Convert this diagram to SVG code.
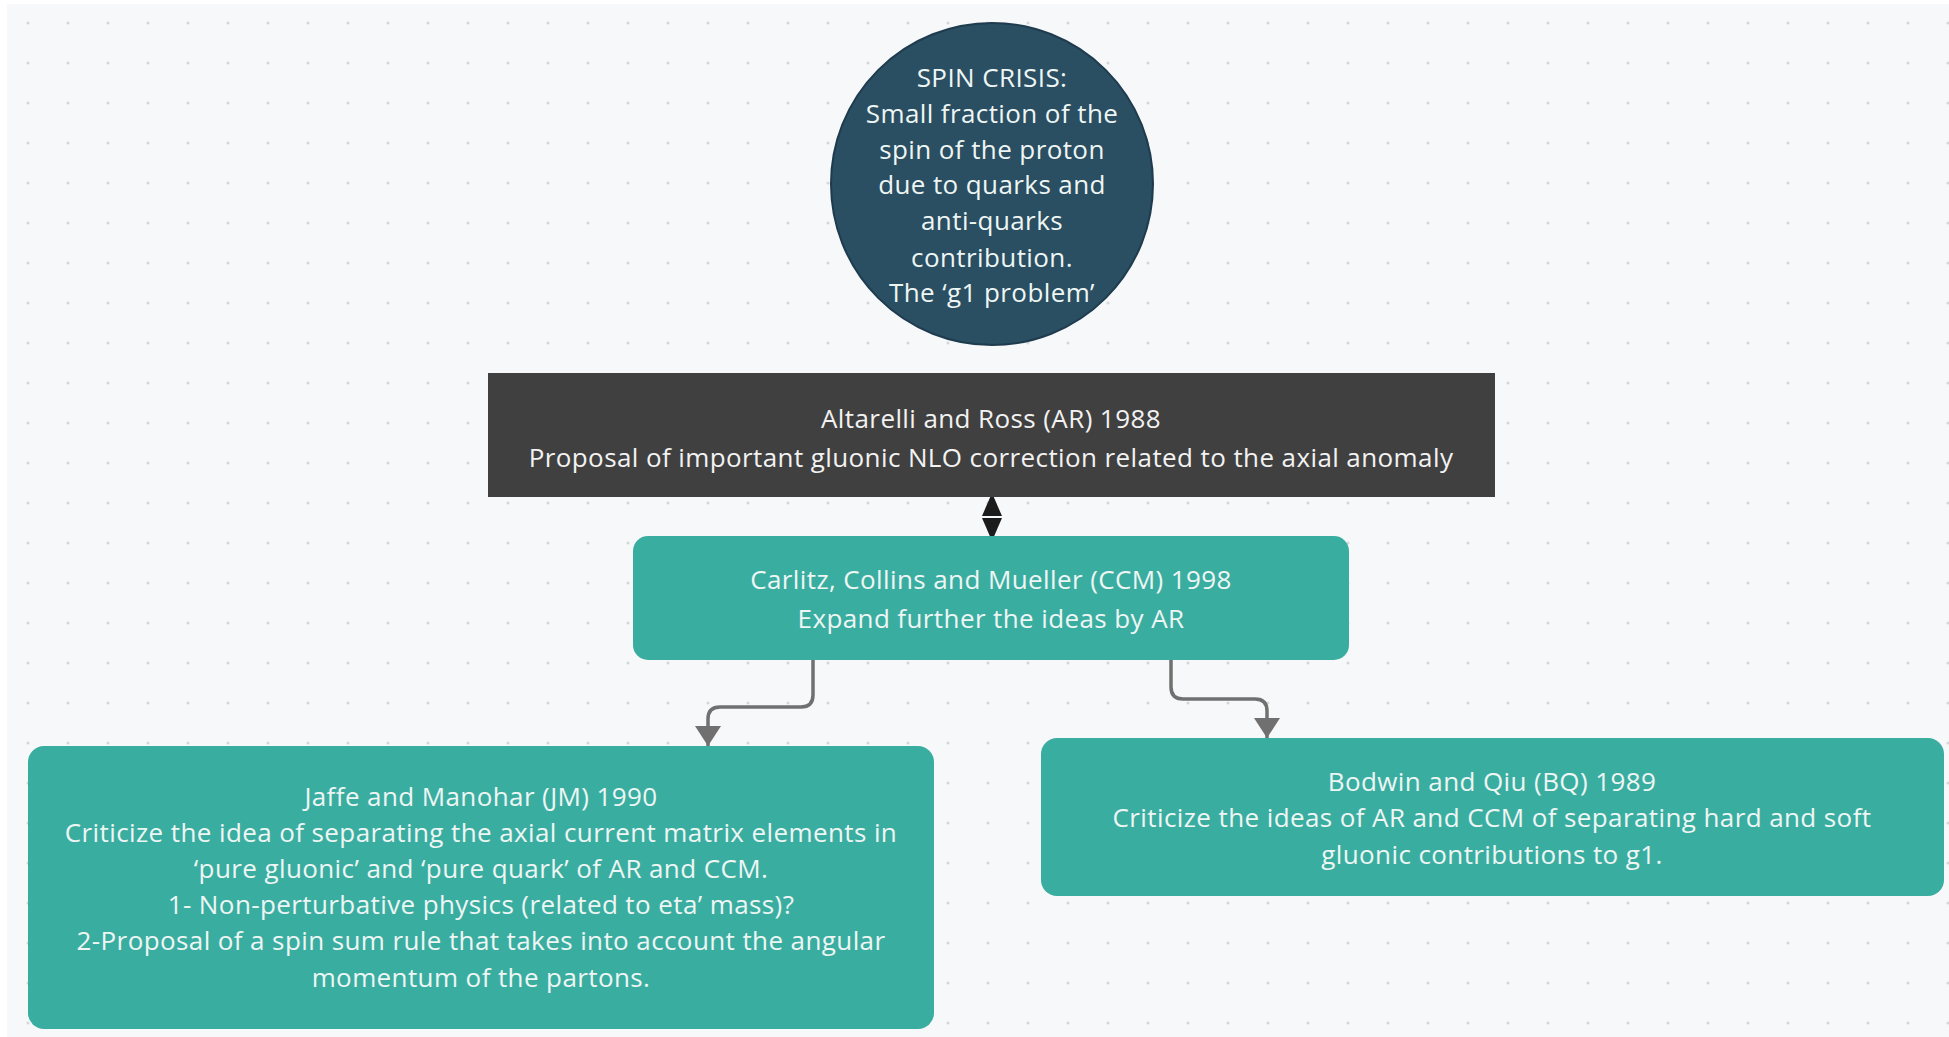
<svg xmlns="http://www.w3.org/2000/svg" width="1949" height="1037" viewBox="0 0 1949 1037">
<style>
.t{font-family:"Open Sans","Noto Sans","Liberation Sans",sans-serif;font-size:26px;letter-spacing:0.4px;text-anchor:middle;fill:#eef6f4}
.teal{fill:#3aada1}
.conn{fill:none;stroke:#707070;stroke-width:3.5}
</style>
<defs>
<pattern id="dots" patternUnits="userSpaceOnUse" x="8" y="3" width="40" height="40">
<circle cx="20" cy="20" r="1.6" fill="#d6d7da"/>
</pattern>
<marker id="arr" markerUnits="userSpaceOnUse" markerWidth="22" markerHeight="28" refX="20" refY="13" orient="auto" viewBox="0 0 22 28">
<path d="M0,0 L20,13 L0,26 z" fill="#707070"/>
</marker>
<marker id="blk" markerUnits="userSpaceOnUse" markerWidth="24" markerHeight="22" refX="0" refY="10" orient="auto-start-reverse" viewBox="0 0 24 22">
<path d="M0,0 L23,10 L0,20 z" fill="#1c1c1c"/>
</marker>
</defs>
<rect width="1949" height="1037" fill="#ffffff"/>
<rect x="7" y="4" width="1942" height="1033" fill="#f7f8fa"/>
<rect x="7" y="4" width="1942" height="1033" fill="url(#dots)"/>

<g id="connectors">
<path class="conn" d="M813,660 V695 Q813,707 801,707 H720 Q708,707 708,719 V746" marker-end="url(#arr)"/>
<path class="conn" d="M1171,660 V687 Q1171,699 1183,699 H1255 Q1267,699 1267,711 V738" marker-end="url(#arr)"/>
<path d="M992,516 L992,518" fill="none" stroke="none" marker-start="url(#blk)" marker-end="url(#blk)"/>
</g>

<g id="spin-crisis">
<circle cx="992" cy="184" r="161" fill="#2a4e62" stroke="#1e3c4e" stroke-width="2"/>
<text class="t" x="992" y="87">SPIN CRISIS:</text>
<text class="t" x="992" y="123">Small fraction of the</text>
<text class="t" x="992" y="159">spin of the proton</text>
<text class="t" x="992" y="194">due to quarks and</text>
<text class="t" x="992" y="230">anti-quarks</text>
<text class="t" x="992" y="267">contribution.</text>
<text class="t" x="992" y="302">The ‘g1 problem’</text>
</g>

<g id="ar">
<rect x="488" y="373" width="1007" height="124" fill="#404040"/>
<text class="t" x="991" y="428" style="fill:#f2f2f2">Altarelli and Ross (AR) 1988</text>
<text class="t" x="991" y="467" style="fill:#f2f2f2">Proposal of important gluonic NLO correction related to the axial anomaly</text>
</g>

<g id="ccm">
<rect class="teal" x="633" y="536" width="716" height="124" rx="15"/>
<text class="t" x="991" y="589">Carlitz, Collins and Mueller (CCM) 1998</text>
<text class="t" x="991" y="628">Expand further the ideas by AR</text>
</g>

<g id="jm">
<rect class="teal" x="28" y="746" width="906" height="283" rx="16"/>
<text class="t" x="481" y="806">Jaffe and Manohar (JM) 1990</text>
<text class="t" x="481" y="842">Criticize the idea of separating the axial current matrix elements in</text>
<text class="t" x="481" y="878">‘pure gluonic’ and ‘pure quark’ of AR and CCM.</text>
<text class="t" x="481" y="914">1- Non-perturbative physics (related to eta’ mass)?</text>
<text class="t" x="481" y="950">2-Proposal of a spin sum rule that takes into account the angular</text>
<text class="t" x="481" y="987">momentum of the partons.</text>
</g>

<g id="bq">
<rect class="teal" x="1041" y="738" width="903" height="158" rx="16"/>
<text class="t" x="1492" y="791">Bodwin and Qiu (BQ) 1989</text>
<text class="t" x="1492" y="827">Criticize the ideas of AR and CCM of separating hard and soft</text>
<text class="t" x="1492" y="864">gluonic contributions to g1.</text>
</g>
</svg>
